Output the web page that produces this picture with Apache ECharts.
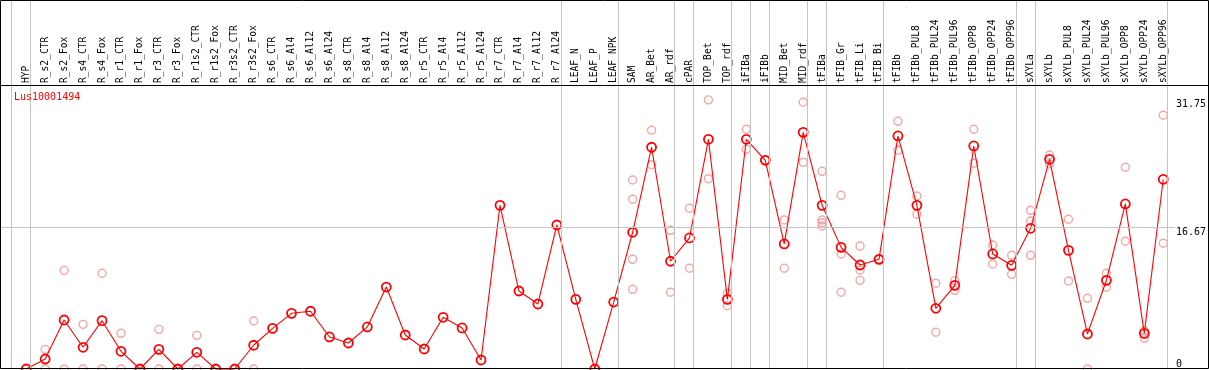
<!DOCTYPE html>
<html>
<head>
<meta charset="utf-8">
<script src="https://cdn.jsdelivr.net/npm/echarts@6/dist/echarts.min.js"></script>
<style>
html,body{margin:0;padding:0;background:#fff;}
#chart{width:1209px;height:370px;}
</style>
</head>
<body>
<div id="chart"></div>
<script>
const geneName = "Lus10001494";

const categories = [
  "HYP","R_s2_CTR","R_s2_Fox","R_s4_CTR","R_s4_Fox","R_r1_CTR","R_r1_Fox","R_r3_CTR","R_r3_Fox",
  "R_r1s2_CTR","R_r1s2_Fox","R_r3s2_CTR","R_r3s2_Fox","R_s6_CTR","R_s6_Al4","R_s6_Al12","R_s6_Al24",
  "R_s8_CTR","R_s8_Al4","R_s8_Al12","R_s8_Al24","R_r5_CTR","R_r5_Al4","R_r5_Al12","R_r5_Al24",
  "R_r7_CTR","R_r7_Al4","R_r7_Al12","R_r7_Al24","LEAF_N","LEAF_P","LEAF_NPK","SAM","AR_Bet","AR_rdf",
  "cPAR","TOP_Bet","TOP_rdf","iFIBa","iFIBb","MID_Bet","MID_rdf","tFIBa","tFIB_Gr","tFIB_Li","tFIB_Bi",
  "tFIBb","tFIBb_PUL8","tFIBb_PUL24","tFIBb_PUL96","tFIBb_OPP8","tFIBb_OPP24","tFIBb_OPP96",
  "sXYLa","sXYLb","sXYLb_PUL8","sXYLb_PUL24","sXYLb_PUL96","sXYLb_OPP8","sXYLb_OPP24","sXYLb_OPP96"
];

// mean expression per sample (red line)
const meanValues = [
  0, 1.18, 5.78, 2.56, 5.70, 2.09, 0, 2.32, 0, 1.97, 0, 0, 2.80,
  4.80, 6.57, 6.81, 3.78, 3.07, 4.96, 9.67, 4.01, 2.36, 6.10, 4.84, 1.06,
  19.31, 9.20, 7.67, 16.99, 8.22, 0, 7.90, 16.13, 26.16, 12.71,
  15.46, 27.10, 8.22, 27.10, 24.62, 14.75, 27.92, 19.31, 14.35, 12.27, 12.94,
  27.49, 19.31, 7.16, 9.87, 26.31, 13.57, 12.23,
  16.60, 24.74, 14.00, 4.13, 10.46, 19.47, 4.21, 22.38
];

// individual replicate values (pink circles)
const replicateValues = [
  [], [2.32, 0], [11.64, 0], [5.27, 0], [11.29, 0], [4.21, 0], [0, 0], [4.68, 0], [0, 0],
  [3.97, 0], [0, 0], [0, 0], [5.66, 0],
  [], [], [], [], [], [], [], [], [], [], [], [],
  [], [], [], [], [], [], [],
  [22.30, 20.02, 12.94, 9.40], [28.16, 24.10], [16.36, 9.05],
  [18.96, 11.88], [31.75, 22.45], [8.93, 7.47], [28.28, 25.92], [24.62, 24.62],
  [17.58, 11.88], [31.47, 24.38], [23.32, 17.58, 17.26, 16.87], [20.49, 13.57, 9.05],
  [14.51, 11.68, 10.46], [12.94, 12.94],
  [29.22, 25.80], [20.41, 18.25], [10.11, 4.33], [10.42, 9.28], [28.28, 24.27],
  [14.63, 12.39], [13.41, 11.17],
  [18.72, 17.46, 13.41], [25.25, 24.19], [17.66, 10.38], [8.34, 0], [11.29, 9.64],
  [23.80, 15.07], [4.52, 3.62], [29.93, 14.83]
];

// right-hand axis tick labels
const yTickLabels = [0, 16.67, 31.75];

// last sample index of each tissue group (vertical separators)
const groupEnds = [-1, 0, 28, 31, 34, 35, 37, 38, 39, 41, 42, 45, 52, 53, 60];

const FONT = "DejaVu Sans Mono";
const X_MIN = -1.3316, X_MAX = 60.615, Y_MAX = 43.53;

const meanData = meanValues.map((v, i) => [i, v]);
const repData = [];
replicateValues.forEach((arr, i) => arr.forEach(v => repData.push([i, v])));

const chart = echarts.init(document.getElementById('chart'), null, {renderer: 'canvas'});
chart.setOption({
  animation: false,
  backgroundColor: '#fff',
  title: {
    text: geneName, left: 9, top: 87,
    textStyle: {color: '#ff0000', fontFamily: FONT, fontSize: 10, fontWeight: 'normal'}
  },
  grid: {left: 1, right: 31, top: 0, bottom: 1, containLabel: false},
  xAxis: [
    {type: 'value', min: X_MIN, max: X_MAX, show: false},
    {
      type: 'value', min: X_MIN, max: X_MAX, position: 'top', offset: -85,
      axisLine: {show: false}, axisTick: {show: false}, splitLine: {show: false},
      axisLabel: {
        show: true, rotate: 90, margin: 2, color: '#000', fontFamily: FONT, fontSize: 9.6,
        customValues: categories.map((c, i) => i),
        formatter: v => categories[Math.round(v)] || ''
      }
    }
  ],
  yAxis: [
    {
      type: 'value', min: 0, max: Y_MAX, position: 'right',
      axisLine: {show: false}, axisTick: {show: false}, splitLine: {show: false},
      axisLabel: {
        show: true, margin: 1, verticalAlign: 'top', color: '#000', fontFamily: FONT, fontSize: 10,
        customValues: yTickLabels.filter(v => v > 0),
        formatter: v => String(v)
      }
    },
    {
      type: 'value', min: 0, max: Y_MAX, position: 'right',
      axisLine: {show: false}, axisTick: {show: false}, splitLine: {show: false},
      axisLabel: {
        show: true, margin: 1, verticalAlign: 'bottom', color: '#000', fontFamily: FONT, fontSize: 10,
        customValues: yTickLabels.filter(v => v === 0),
        formatter: v => String(v)
      }
    }
  ],
  series: [
    {
      type: 'line', data: [], z: 1, silent: true,
      markLine: {
        silent: true, symbol: 'none', label: {show: false},
        lineStyle: {color: '#c4c4c4', width: 1, type: 'solid'},
        data: groupEnds.map(i => ({xAxis: i + 0.22}))
          .concat(yTickLabels.filter(v => v > 0 && v < 20).map(v => ({yAxis: v})))
      }
    },
    {
      type: 'scatter', data: repData, z: 2, clip: false,
      symbol: 'circle', symbolSize: 8,
      itemStyle: {color: 'rgba(255,255,255,0)', borderColor: '#f09090', borderWidth: 1.4}
    },
    {
      type: 'line', data: meanData, z: 3, clip: false,
      symbol: 'circle', symbolSize: 9, showAllSymbol: true,
      lineStyle: {color: '#ff0000', width: 1.1},
      itemStyle: {color: 'rgba(255,255,255,0)', borderColor: '#ff0000', borderWidth: 1.8}
    }
  ],
  graphic: [
    {type: 'rect', z: 100, silent: true, shape: {x: 0.5, y: 0.5, width: 1208, height: 368},
     style: {fill: null, stroke: '#000', lineWidth: 1}},
    {type: 'line', z: 100, silent: true, shape: {x1: 0, y1: 85.5, x2: 1209, y2: 85.5},
     style: {stroke: '#000', lineWidth: 1}}
  ]
});
</script>
</body>
</html>
